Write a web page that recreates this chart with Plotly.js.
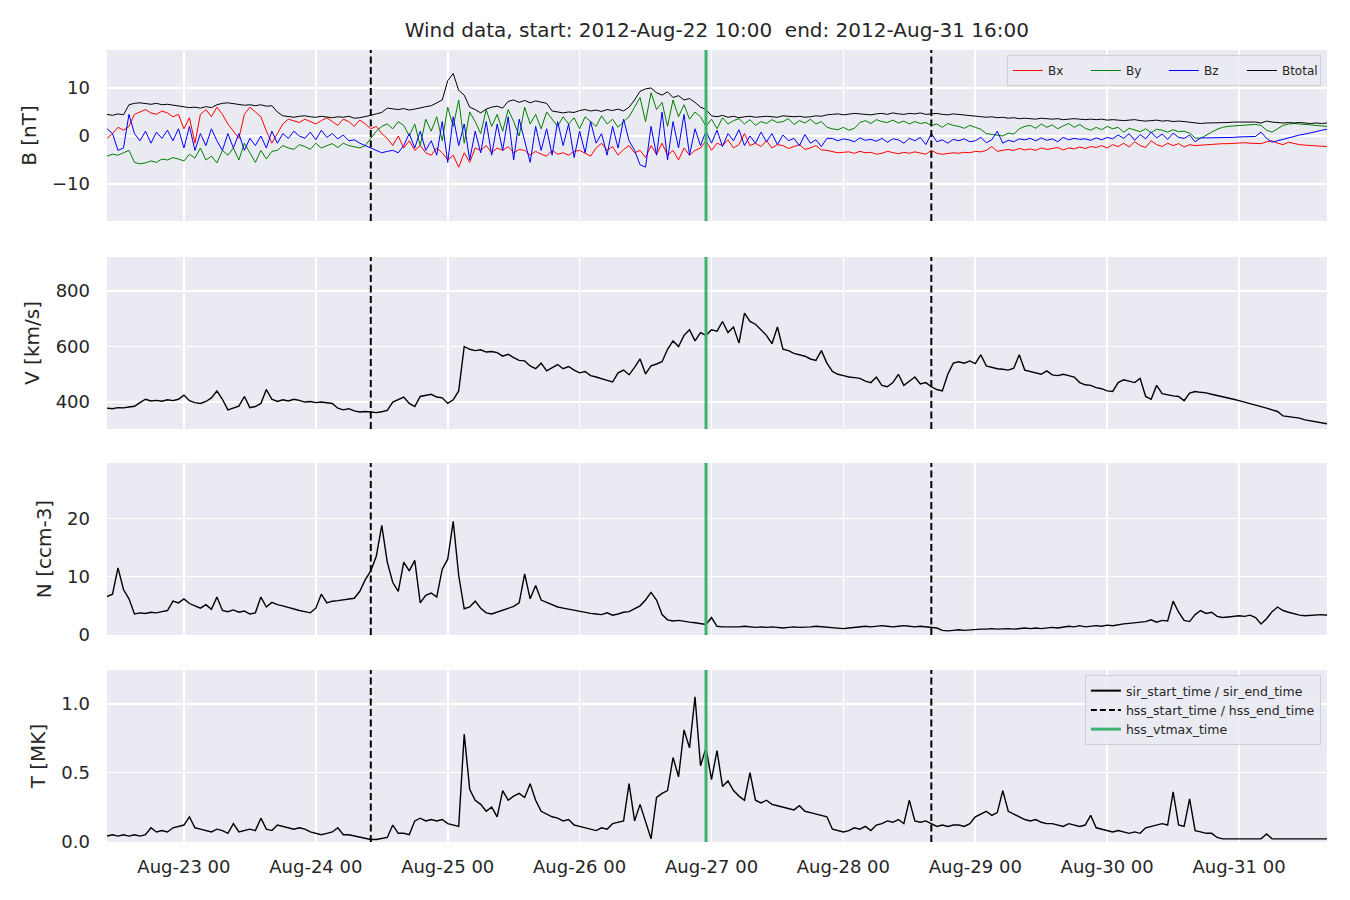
<!DOCTYPE html>
<html><head><meta charset="utf-8">
<script src="https://cdn.plot.ly/plotly-3.0.1.min.js"></script>
<style>html,body{margin:0;padding:0;background:#fff}</style>
</head><body><div id="chart" style="width:1350px;height:900px"></div>
<script>
// hourly samples starting 2012-08-22 10:00
const startTime = "2012-08-22T10:00:00Z";
const Bx = [-0.5,0.5,1.8,1.2,2.0,4.5,5.0,5.5,4.8,4.5,5.2,4.8,
4.0,4.5,1.5,3.8,-1.5,4.5,5.5,4.0,6.0,4.5,2.5,1.0,
-0.5,4.5,6.0,5.0,4.0,1.0,-1.5,0.5,2.5,3.5,3.2,2.8,
3.5,3.0,2.5,3.2,3.8,3.0,2.2,3.5,3.0,2.0,3.3,2.5,
1.5,2.0,0.5,-0.5,-2.0,0.0,-2.5,-1.0,-3.0,-2.0,-3.5,-4.0,
-2.5,-3.5,-5.0,-4.0,-6.5,-3.5,-5.5,-2.5,-3.0,-2.0,-3.5,-2.5,
-3.0,-2.2,-3.5,-2.8,-3.0,-4.0,-3.2,-3.8,-4.2,-3.0,-3.8,-3.5,
-4.0,-3.2,-3.0,-3.6,-4.2,-2.5,-1.5,-3.0,-2.2,-4.0,-2.8,-2.0,
-3.5,-3.0,-4.5,-2.0,-3.8,-1.5,-4.0,-3.0,-5.0,-2.5,-4.0,-3.0,
-2.5,-1.0,-3.0,-1.5,-2.0,-0.8,-2.5,-1.8,0.5,-2.0,-1.5,-2.2,
-1.0,-2.5,-1.8,-2.0,-2.6,-2.2,-1.8,-2.8,-2.5,-2.0,-2.9,-3.0,
-3.2,-3.5,-3.4,-3.3,-3.6,-3.2,-3.5,-3.4,-3.8,-3.6,-3.2,-3.5,
-3.7,-3.4,-3.6,-3.3,-3.5,-3.8,-3.0,-3.6,-3.8,-3.7,-3.5,-3.6,
-3.4,-3.5,-3.2,-3.3,-3.0,-2.2,-3.2,-3.0,-2.8,-3.0,-2.6,-2.9,
-2.7,-3.0,-2.5,-2.8,-2.6,-2.4,-2.9,-2.5,-2.7,-2.3,-2.6,-2.2,
-2.4,-2.0,-2.5,-1.8,-2.2,-1.5,-2.3,-1.2,-2.0,-2.4,-1.0,-1.8,
-2.2,-1.5,-2.0,-1.6,-2.3,-1.8,-2.0,-1.9,-1.8,-1.7,-1.7,-1.6,
-1.6,-1.5,-1.5,-1.4,-1.5,-1.5,-1.6,-1.2,-1.0,-1.5,-1.8,-1.3,
-1.6,-1.8,-1.9,-2.0,-2.1,-2.1,-2.2];
const By = [-4.2,-3.8,-4.0,-3.5,-3.0,-5.5,-5.8,-5.6,-5.2,-5.5,-4.8,-5.0,
-4.5,-4.8,-5.2,-3.8,-4.6,-2.5,-5.0,-4.2,-5.6,-3.0,-4.0,-2.5,
-5.0,-1.5,-3.5,-5.5,-3.0,-4.8,-3.2,-3.0,-2.0,-2.5,-2.8,-1.8,
-2.2,-2.8,-1.5,-2.5,-2.0,-1.6,-2.4,-1.5,-2.0,-2.2,-2.5,-2.0,
-0.5,1.0,2.0,2.5,1.5,3.0,2.2,0.0,2.5,-2.0,3.5,1.0,
4.0,-1.0,6.0,2.0,7.5,-1.5,5.0,3.0,0.5,5.5,2.0,4.5,
1.0,5.5,3.0,0.0,6.0,2.5,4.5,1.5,5.0,3.5,2.0,4.0,
2.5,3.8,1.5,4.0,3.0,2.0,4.2,2.5,3.5,1.8,3.0,4.0,
6.0,8.0,3.0,9.0,5.5,7.0,2.0,7.5,4.0,6.5,3.5,5.0,
4.0,2.0,3.5,1.5,3.8,2.5,3.2,3.6,2.5,3.4,2.2,3.0,
2.6,3.4,2.8,3.0,3.6,2.4,3.2,2.7,3.5,2.5,3.0,1.8,
1.5,1.3,1.8,1.2,1.6,2.8,3.2,2.6,3.4,3.0,2.8,3.3,
2.7,3.1,2.5,3.0,2.6,2.8,2.2,2.5,1.8,2.6,2.2,2.0,
1.6,2.2,1.8,1.4,0.5,0.3,0.2,0.0,0.6,0.4,1.5,2.0,
2.2,1.6,2.5,1.8,2.3,1.5,2.1,2.6,1.8,2.4,1.6,1.2,
1.8,1.3,2.0,1.5,1.8,0.8,1.6,1.2,0.9,1.5,0.7,1.4,
1.2,0.8,1.3,0.9,1.0,0.6,-0.4,-0.5,0.2,0.8,1.4,1.8,
2.0,2.1,2.2,2.3,2.3,2.4,2.2,1.2,0.8,1.5,2.2,2.5,
2.6,2.5,2.4,2.3,2.2,2.1,2.0];
const Bz = [1.5,0.5,-3.0,-2.5,4.5,0.5,-1.0,1.0,-1.5,0.8,-0.5,1.2,
-1.0,1.5,-2.5,2.0,-3.0,0.5,-2.0,1.5,-1.0,-3.0,0.5,-2.5,
0.5,-3.0,-0.5,-2.0,0.0,-2.5,1.0,-1.5,0.5,-0.5,1.0,0.0,
-0.5,0.8,-0.8,1.2,-0.3,0.5,-0.6,0.2,-1.0,-0.8,-1.5,-2.0,
-2.5,-3.0,-3.5,-3.2,-3.0,-3.5,-2.0,0.5,-2.5,1.0,-3.0,-1.0,
-4.0,3.0,-5.5,4.0,-2.0,2.5,-5.0,1.0,-3.5,3.0,-4.0,2.5,
-3.0,4.0,-5.0,3.5,-1.0,-5.5,2.0,-3.0,1.5,-4.0,3.0,-2.0,
2.5,-4.5,1.0,-3.5,3.0,-1.5,0.5,-4.0,2.0,-2.5,3.5,-1.0,
-3.0,-6.0,-6.5,2.0,-4.0,5.0,-5.0,3.0,-2.5,4.5,-4.0,1.5,
-2.0,1.0,-1.5,1.2,-2.2,0.5,-1.0,1.3,-2.0,0.0,-1.5,0.8,
-1.2,0.5,-1.8,0.2,-1.0,-0.5,-2.0,0.3,-1.5,-0.8,-2.2,-0.5,
-0.5,-1.0,-0.6,-0.8,-1.2,-0.4,-0.9,-0.7,-1.1,-0.5,-1.3,-0.6,
-0.8,-1.5,-0.5,-1.0,-0.3,-1.8,0.5,-1.2,-0.8,-1.5,-0.7,-1.0,
-0.6,-1.2,-1.0,-0.3,-1.4,-0.8,1.0,-1.5,-0.9,-1.2,-0.6,-0.8,
-0.5,-1.0,-0.4,-0.9,-0.6,-1.2,-0.3,-0.8,-0.5,-0.7,-0.6,-0.9,
-0.4,-0.8,-0.3,-0.6,0.2,-0.5,0.5,-0.9,0.3,-0.6,0.8,-0.4,
0.4,-0.7,0.6,-0.3,-0.5,0.2,-1.2,-0.4,-0.4,-0.4,-0.4,-0.3,
-0.3,-0.3,-0.2,-0.2,-0.2,-0.1,0.8,-0.5,-1.3,-1.0,-0.6,-0.4,
0.0,0.2,0.4,0.6,0.9,1.2,1.4];
const Btotal = [4.5,4.3,4.6,4.4,6.5,6.8,6.9,6.7,6.6,6.8,6.5,6.6,
6.4,6.2,6.1,5.9,6.0,5.8,6.1,5.9,6.5,6.8,6.9,6.7,
6.6,6.4,6.5,6.3,6.5,6.2,6.3,5.0,4.2,4.0,3.9,4.1,
4.2,4.0,3.9,4.1,4.0,3.8,4.0,3.9,4.1,3.7,3.8,4.0,
4.3,4.6,4.9,5.8,5.6,5.5,5.7,5.4,5.6,5.9,6.1,6.3,
6.9,7.5,11.5,13.0,9.5,8.5,6.0,5.5,4.8,5.6,6.0,6.2,
5.8,7.2,7.5,7.0,7.4,6.9,7.3,7.1,6.8,5.2,5.0,4.8,
5.0,4.9,5.3,5.5,5.2,5.4,5.1,5.5,5.3,5.6,5.2,6.0,
7.5,9.3,9.8,10.0,9.0,8.5,9.2,8.0,8.4,7.5,7.8,7.0,
6.0,5.5,4.2,4.0,4.3,3.9,4.1,3.8,4.0,4.1,3.9,4.0,
4.1,4.0,3.9,4.2,4.1,4.0,4.1,3.9,4.0,4.2,4.1,4.4,
4.5,4.6,4.4,4.5,4.7,4.6,4.5,4.4,4.6,4.7,4.5,4.8,
4.6,4.5,4.7,4.6,4.8,4.5,4.6,4.7,4.5,4.4,4.6,4.5,
4.4,4.3,4.2,4.0,3.9,4.0,3.8,3.9,3.7,3.8,3.6,3.7,
3.6,3.5,3.7,3.6,3.5,3.6,3.4,3.5,3.6,3.5,3.4,3.5,
3.4,3.5,3.3,3.4,3.3,3.2,3.3,3.4,3.2,3.1,3.2,3.3,
3.1,3.2,3.0,3.1,3.0,2.9,2.7,2.6,2.7,2.7,2.8,2.8,
2.8,2.9,2.9,3.0,3.0,2.9,2.7,3.1,2.9,2.8,2.7,2.8,
2.7,2.8,2.7,2.6,2.7,2.6,2.7];
const V = [378,376,380,379,382,385,398,410,404,406,403,408,
405,410,425,405,398,395,402,415,440,410,372,378,
385,420,380,384,395,445,410,402,408,404,410,406,
400,402,398,400,398,395,378,372,376,368,364,366,
364,362,365,370,400,410,418,395,384,420,424,428,
418,415,395,408,440,600,590,585,588,580,582,578,
565,572,560,550,548,530,520,540,512,525,535,520,
528,515,505,510,495,490,485,478,472,505,515,498,
525,555,501,530,537,545,590,620,600,640,660,620,
650,640,660,655,690,650,670,612,720,690,680,660,
640,610,670,590,585,575,570,565,555,550,585,540,
510,500,495,490,488,485,475,470,490,460,455,470,
500,460,475,490,465,470,455,445,440,500,540,545,
540,548,538,570,530,525,520,518,515,522,570,515,
510,505,500,512,498,495,500,495,490,470,462,460,
452,448,440,438,470,480,475,470,485,420,410,460,
430,425,422,420,405,432,438,435,433,428,424,420,
415,410,405,400,395,390,385,378,372,366,350,348,
345,342,336,332,328,325,322];
const N = [6.6,7.0,11.5,7.8,6.2,3.6,3.8,3.7,3.9,3.8,4.0,4.2,
5.8,5.5,6.2,5.4,5.0,4.6,5.2,4.4,6.5,4.2,4.0,4.3,
3.9,4.1,3.6,3.8,6.5,4.8,5.6,5.2,5.0,4.7,4.4,4.2,
4.0,3.8,4.6,7.0,5.5,5.8,5.9,6.0,6.2,6.3,7.5,9.5,
11.0,13.5,18.8,12.5,9.0,7.5,12.5,11.0,12.8,5.5,6.8,7.2,
6.5,11.3,13.0,19.5,10.2,4.5,4.8,5.8,4.6,3.8,3.6,3.9,
4.2,4.5,4.9,5.5,10.5,6.2,8.5,6.0,5.6,5.2,4.8,4.6,
4.4,4.2,4.0,3.9,3.7,3.6,3.5,3.8,3.4,3.6,3.9,4.0,
4.5,5.0,6.0,7.3,6.0,3.5,2.6,2.4,2.5,2.3,2.2,2.1,
2.0,1.8,3.0,1.5,1.4,1.4,1.3,1.4,1.5,1.4,1.3,1.4,
1.3,1.4,1.3,1.2,1.3,1.4,1.3,1.3,1.4,1.5,1.4,1.3,
1.3,1.2,1.1,1.2,1.3,1.4,1.5,1.4,1.5,1.6,1.5,1.4,
1.5,1.6,1.5,1.4,1.5,1.4,1.3,1.2,0.8,0.7,0.8,0.9,
0.8,0.9,0.9,1.0,1.0,1.1,1.0,1.1,1.1,1.0,1.1,1.2,
1.1,1.2,1.1,1.2,1.3,1.2,1.4,1.5,1.4,1.6,1.4,1.5,
1.6,1.5,1.7,1.6,1.8,1.9,2.0,2.1,2.2,2.3,2.6,2.2,
2.5,2.4,5.8,3.9,2.5,2.3,3.5,4.2,3.7,3.9,3.2,3.0,
3.1,3.2,3.3,3.2,3.4,3.0,1.9,2.8,4.0,4.8,4.2,3.9,
3.6,3.4,3.3,3.4,3.4,3.5,3.4];
const T = [0.04,0.05,0.04,0.05,0.04,0.05,0.04,0.05,0.10,0.07,0.08,0.07,
0.10,0.11,0.12,0.18,0.10,0.09,0.08,0.07,0.09,0.08,0.06,0.13,
0.07,0.08,0.09,0.08,0.17,0.09,0.08,0.12,0.11,0.10,0.09,0.10,
0.09,0.07,0.06,0.05,0.06,0.07,0.10,0.05,0.05,0.04,0.03,0.02,
0.015,0.015,0.02,0.03,0.12,0.06,0.06,0.05,0.15,0.17,0.15,0.16,
0.15,0.16,0.13,0.12,0.11,0.78,0.38,0.30,0.27,0.22,0.25,0.18,
0.37,0.30,0.33,0.35,0.32,0.42,0.30,0.22,0.20,0.18,0.17,0.15,
0.16,0.12,0.11,0.10,0.09,0.08,0.10,0.09,0.13,0.14,0.15,0.42,
0.15,0.27,0.14,0.02,0.32,0.35,0.37,0.61,0.47,0.81,0.68,1.05,
0.55,0.68,0.45,0.66,0.40,0.44,0.37,0.33,0.30,0.50,0.30,0.28,
0.30,0.27,0.26,0.25,0.24,0.23,0.26,0.22,0.21,0.20,0.19,0.18,
0.09,0.08,0.07,0.08,0.10,0.09,0.11,0.08,0.12,0.13,0.15,0.14,
0.16,0.13,0.30,0.15,0.14,0.15,0.13,0.11,0.12,0.11,0.12,0.12,
0.11,0.13,0.18,0.20,0.22,0.19,0.21,0.37,0.22,0.20,0.18,0.16,
0.15,0.16,0.14,0.13,0.13,0.12,0.11,0.13,0.12,0.11,0.12,0.19,
0.10,0.09,0.08,0.07,0.08,0.07,0.06,0.07,0.06,0.10,0.11,0.12,
0.13,0.12,0.36,0.12,0.11,0.31,0.08,0.07,0.06,0.06,0.03,0.02,
0.02,0.02,0.02,0.02,0.02,0.02,0.02,0.055,0.02,0.02,0.02,0.02,
0.02,0.02,0.02,0.02,0.02,0.02,0.02];

const hssTimes = ["2012-08-24 10:00", "2012-08-28 16:00"];
const vtmaxTime = "2012-08-26 23:00";
const xRange = ["2012-08-22 10:00", "2012-08-31 16:00"];
const tickVals = ["2012-08-23","2012-08-24","2012-08-25","2012-08-26","2012-08-27","2012-08-28","2012-08-29","2012-08-30","2012-08-31"];
const tickText = ["Aug-23 00","Aug-24 00","Aug-25 00","Aug-26 00","Aug-27 00","Aug-28 00","Aug-29 00","Aug-30 00","Aug-31 00"];
const titleText = "Wind data, start: 2012-Aug-22 10:00  end: 2012-Aug-31 16:00";

function makeTimes(n) {
  const t0 = Date.parse(startTime), out = [];
  for (let i = 0; i < n; i++) out.push(new Date(t0 + i * 3600000).toISOString().slice(0, 16).replace('T', ' '));
  return out;
}

const FONT = "DejaVu Sans, sans-serif";
const TXT = "#262626";
const traces = [];
function line(y, xa, ya, color, name, width, legend) {
  return {x: makeTimes(y.length), y: y, xaxis: xa, yaxis: ya, type: 'scatter', mode: 'lines',
    line: {color: color, width: width}, name: name, showlegend: !!legend, legend: legend || 'legend', hoverinfo: 'skip'};
}
traces.push(line(Bx, 'x', 'y', '#ff0000', 'Bx', 1, 'legend'));
traces.push(line(By, 'x', 'y', '#008000', 'By', 1, 'legend'));
traces.push(line(Bz, 'x', 'y', '#0000ff', 'Bz', 1, 'legend'));
traces.push(line(Btotal, 'x', 'y', '#000000', 'Btotal', 1, 'legend'));
traces.push(line(V, 'x2', 'y2', '#000000', 'V', 1.4));
traces.push(line(N, 'x3', 'y3', '#000000', 'N', 1.4));
traces.push(line(T, 'x4', 'y4', '#000000', 'T', 1.4));
// legend-only entries for event markers
traces.push({x:[null], y:[null], xaxis:'x4', yaxis:'y4', mode:'lines', name:'sir_start_time / sir_end_time', line:{color:'#000', width:2}, legend:'legend2'});
traces.push({x:[null], y:[null], xaxis:'x4', yaxis:'y4', mode:'lines', name:'hss_start_time / hss_end_time', line:{color:'#000', width:2, dash:'6px,3px'}, legend:'legend2'});
traces.push({x:[null], y:[null], xaxis:'x4', yaxis:'y4', mode:'lines', name:'hss_vtmax_time', line:{color:'#3cb371', width:3}, legend:'legend2'});

const shapes = [];
['', '2', '3', '4'].forEach(s => {
  hssTimes.forEach(t => shapes.push({type:'line', xref:'x'+s, yref:'y'+s+' domain', x0:t, x1:t, y0:0, y1:1,
    line:{color:'#000', width:2, dash:'7px,3.5px'}}));
  shapes.push({type:'line', xref:'x'+s, yref:'y'+s+' domain', x0:vtmaxTime, x1:vtmaxTime, y0:0, y1:1,
    line:{color:'#3cb371', width:3}});
});

const H = 792;
function dom(top, bot) { return [(842 - bot) / H, (842 - top) / H]; }
function xax(show, anchor) {
  return {type:'date', range:xRange, domain:[0,1], anchor:anchor, tickvals:tickVals, ticktext:tickText,
    showticklabels:show, gridcolor:'#ffffff', gridwidth:1.6, zeroline:false, showline:false, ticks:'',
    ticklabelstandoff:12, tickfont:{family:FONT, size:18, color:TXT}, matches: anchor === 'y' ? undefined : 'x'};
}
function yax(domain, range, tickvals, title, fmt) {
  return {domain:domain, range:range, tickvals:tickvals, tickformat:fmt, gridcolor:'#ffffff', gridwidth:1.6,
    zeroline:false, showline:false, ticks:'', ticklabelstandoff:16,
    tickfont:{family:FONT, size:18, color:TXT},
    title:{text:title, font:{family:FONT, size:20, color:TXT}, standoff:10}};
}

const layout = {
  width:1350, height:900,
  margin:{l:107, r:23, t:50, b:58},
  paper_bgcolor:'#ffffff', plot_bgcolor:'#eaeaf2',
  font:{family:FONT, color:TXT},
  title:{text:titleText, font:{family:FONT, size:20, color:TXT}, x:0.531, xanchor:'center', y:1-30/900, yanchor:'middle'},
  showlegend:true,
  xaxis: xax(false, 'y'),
  xaxis2: xax(false, 'y2'),
  xaxis3: xax(false, 'y3'),
  xaxis4: xax(true, 'y4'),
  yaxis: yax(dom(50, 221), [-17.7, 17.9], [-10, 0, 10], 'B [nT]'),
  yaxis2: yax(dom(257, 429), [303, 922], [400, 600, 800], 'V [km/s]'),
  yaxis3: yax(dom(463, 635), [0, 29.5], [0, 10, 20], 'N [ccm-3]'),
  yaxis4: yax(dom(670, 842), [-0.003, 1.245], [0, 0.5, 1.0], 'T [MK]', '.1f'),
  legend:{orientation:'h', x:0.995, xanchor:'right', y:(842-55)/H, yanchor:'top',
    bgcolor:'rgba(234,234,242,0.85)', bordercolor:'#cfcfd6', borderwidth:1,
    font:{family:FONT, size:12, color:TXT}, itemwidth:30, entrywidth:33, entrywidthmode:'pixels', tracegroupgap:0},
  legend2:{orientation:'v', x:0.995, xanchor:'right', y:(842-675)/H, yanchor:'top',
    bgcolor:'rgba(234,234,242,0.85)', bordercolor:'#cfcfd6', borderwidth:1,
    font:{family:FONT, size:12.5, color:TXT}, itemwidth:30, tracegroupgap:0},
  shapes: shapes,
  hovermode:false
};
Plotly.newPlot('chart', traces, layout, {displayModeBar:false, staticPlot:true});
</script></body></html>
